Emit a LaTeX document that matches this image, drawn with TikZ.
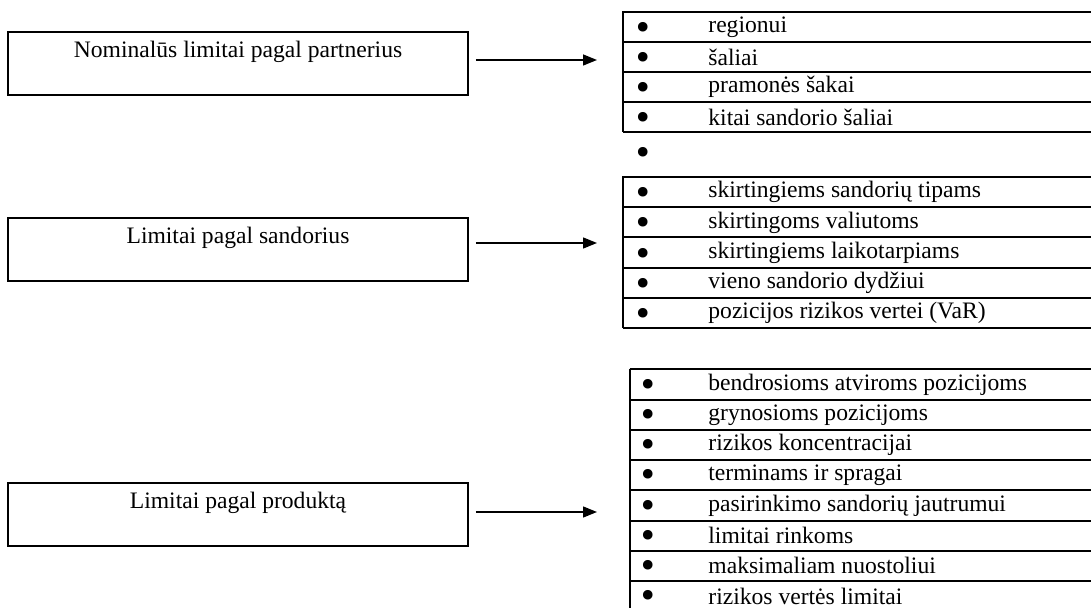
\documentclass[tikz,border=0pt]{standalone}
\usepackage{fontspec}
\setmainfont{Liberation Serif}
\newfontfamily\bulfont{DejaVu Sans}
\usetikzlibrary{arrows.meta}

\begin{document}
\begin{tikzpicture}[
  x=0.5pt, y=-0.5pt,
  >={Triangle[length=7pt, width=5.5pt]},
  limbox/.style={draw, line width=0.75pt, minimum width=230pt,
    minimum height=31.5pt, align=center, font=\fontsize{11.8}{13}\selectfont,
    text height=8pt, text depth=13.5pt},
  item/.style={anchor=west, inner sep=0pt, font=\fontsize{11.8}{13}\selectfont},
  bul/.style={inner sep=0pt, font=\bulfont\fontsize{11}{12}\selectfont},
  rule/.style={line width=1pt},
  arrow/.style={->, line width=0.7pt, shorten <=3.5pt},
]
\newcommand{\bulmark}{\scalebox{1.5}{•}}
\useasboundingbox (0,0) rectangle (1091,608);

% ===== LEFT COLUMN: limit groups =====
\node[limbox] (nom) at (238, 63.5) {Nominalūs limitai pagal partnerius};
\node[limbox] (sand) at (238, 249.5) {Limitai pagal sandorius};
\node[limbox] (prod) at (238, 514.5) {Limitai pagal produktą};

% ===== RIGHT COLUMN: lists =====
% by partner
\draw[rule] (623,11.5) -- (623,132.5);
\foreach \y in {12,42,...,132} \draw[rule] (622.5,\y) -- (1095,\y);
\foreach \t [count=\i] in {regionui, šaliai, pramonės šakai,
  kitai sandorio šaliai} {
  \node[bul] (nombul\i) at (643, {30*\i+1}) {\bulmark};
  \node[item] (nomitem\i) at (708, {30*\i-3}) {\t};
}
\node[bul] (nombul5) at (643, 156) {\bulmark};

% by transaction
\draw[rule] (623,176.5) -- (623,328.5);
\foreach \k in {0,...,5} \draw[rule] (622.5,{177+30.2*\k}) -- (1095,{177+30.2*\k});
\foreach \t [count=\i] in {skirtingiems sandorių tipams, skirtingoms valiutoms,
  skirtingiems laikotarpiams, vieno sandorio dydžiui,
  pozicijos rizikos vertei (VaR)} {
  \node[bul] (sandbul\i) at (643, {166+30.2*\i}) {\bulmark};
  \node[item] (sanditem\i) at (708, {162+30.2*\i}) {\t};
}

% by product
\draw[rule] (630,369) -- (630,615);
\foreach \k in {0,...,7} \draw[rule] (629.5,{369.5+30.2*\k}) -- (1095,{369.5+30.2*\k});
\foreach \t [count=\i] in {bendrosioms atviroms pozicijoms, grynosioms pozicijoms,
  rizikos koncentracijai, terminams ir spragai,
  pasirinkimo sandorių jautrumui, limitai rinkoms,
  maksimaliam nuostoliui, rizikos vertės limitai} {
  \node[bul] (prodbul\i) at (648, {357.5+30.2*\i}) {\bulmark};
  \node[item] (proditem\i) at (708, {354.5+30.2*\i}) {\t};
}

% Arrows
\coordinate (nomtip) at (597, 60);
\coordinate (sandtip) at (597, 243);
\coordinate (prodtip) at (597, 512);
\draw[arrow] (nom.east |- nomtip) -- (nomtip);
\draw[arrow] (sand.east |- sandtip) -- (sandtip);
\draw[arrow] (prod.east |- prodtip) -- (prodtip);

\end{tikzpicture}
\end{document}
